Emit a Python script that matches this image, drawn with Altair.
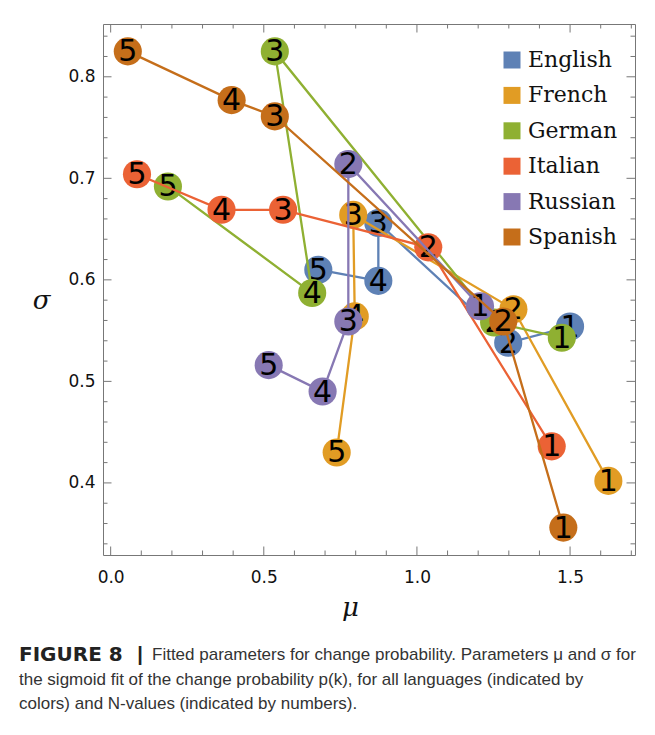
import altair as alt
import pandas as pd

languages = ["English", "French", "German", "Italian", "Russian", "Spanish"]
colors = ["#5E81B5", "#E19C24", "#8FB032", "#EB6235", "#8778B3", "#C56E1A"]
n_values = [1, 2, 3, 4, 5]

english_mu = [1.500, 1.298, 0.874, 0.874, 0.678]
english_sigma = [0.554, 0.538, 0.656, 0.599, 0.610]
french_mu = [1.625, 1.315, 0.792, 0.797, 0.738]
french_sigma = [0.402, 0.571, 0.664, 0.564, 0.430]
german_mu = [1.473, 1.252, 0.536, 0.658, 0.187]
german_sigma = [0.543, 0.558, 0.825, 0.587, 0.692]
italian_mu = [1.440, 1.037, 0.563, 0.362, 0.086]
italian_sigma = [0.436, 0.632, 0.669, 0.669, 0.704]
russian_mu = [1.206, 0.776, 0.776, 0.692, 0.516]
russian_sigma = [0.574, 0.714, 0.559, 0.490, 0.516]
spanish_mu = [1.478, 1.282, 0.536, 0.395, 0.056]
spanish_sigma = [0.356, 0.559, 0.761, 0.777, 0.825]

x_major = [0.0, 0.5, 1.0, 1.5]
x_minor = [0.1, 0.2, 0.3, 0.4, 0.6, 0.7, 0.8, 0.9, 1.1, 1.2, 1.3, 1.4, 1.6, 1.7]
y_major = [0.4, 0.5, 0.6, 0.7, 0.8]
y_minor = [0.34, 0.36, 0.38, 0.42, 0.44, 0.46, 0.48, 0.52, 0.54, 0.56, 0.58,
           0.62, 0.64, 0.66, 0.68, 0.72, 0.74, 0.76, 0.78, 0.82, 0.84]

caption_bold = "FIGURE 8"
caption_bar = "|"
caption_lines = [
    "Fitted parameters for change probability. Parameters \u03bc and \u03c3 for",
    "the sigmoid fit of the change probability p(k), for all languages (indicated by",
    "colors) and N-values (indicated by numbers).",
]

W, H = 532, 531

mus = [english_mu, french_mu, german_mu, italian_mu, russian_mu, spanish_mu]
sigmas = [english_sigma, french_sigma, german_sigma, italian_sigma, russian_sigma, spanish_sigma]
rows = []
for lang, m, s in zip(languages, mus, sigmas):
    for n, a, b in zip(n_values, m, s):
        rows.append({"language": lang, "N": n, "mu": a, "sigma": b})
df = pd.DataFrame(rows)

xscale = alt.Scale(domain=[-0.025, 1.712], nice=False, zero=False)
yscale = alt.Scale(domain=[0.329, 0.852], nice=False, zero=False)
xaxis = alt.Axis(values=x_major, format=".1f", ticks=False, domain=False, grid=False,
                 labelPadding=14, titleX=247, titleY=52, titleBaseline="middle",
                 titleFont="DejaVu Serif", titleFontStyle="italic", titleFontWeight="normal",
                 titleFontSize=26, titleColor="#111")
yaxis = alt.Axis(values=y_major, format=".1f", ticks=False, domain=False, grid=False,
                 labelPadding=8, titleAngle=0, titleX=-62, titleY=276, titleBaseline="middle",
                 titleAlign="center",
                 titleFont="DejaVu Serif", titleFontStyle="italic", titleFontWeight="normal",
                 titleFontSize=26, titleColor="#111")
cscale_fill = alt.Scale(domain=languages, range=colors)
legend = alt.Legend(orient="none", legendX=398, legendY=25, title=None,
                    symbolType="square", symbolSize=289, symbolStrokeWidth=0,
                    symbolOpacity=1, labelFont="DejaVu Serif", labelFontSize=22,
                    labelColor="#111", rowPadding=13.4, labelOffset=5, padding=0)

X = alt.X("mu:Q", scale=xscale, axis=xaxis, title="\u03bc")
Y = alt.Y("sigma:Q", scale=yscale, axis=yaxis, title="\u03c3")

layers = []

# inward ticks on all four sides
for vals, ln in [(x_major, 8.5), (x_minor, 4.5)]:
    tdf = pd.DataFrame({"mu": vals})
    layers.append(alt.Chart(tdf).mark_rule(color="#777", strokeWidth=1).encode(
        x=X, y=alt.value(H), y2=alt.value(H - ln)))
    layers.append(alt.Chart(tdf).mark_rule(color="#777", strokeWidth=1).encode(
        x=X, y=alt.value(0), y2=alt.value(ln)))
for vals, ln in [(y_major, 8.5), (y_minor, 4.5)]:
    tdf = pd.DataFrame({"sigma": vals})
    layers.append(alt.Chart(tdf).mark_rule(color="#777", strokeWidth=1).encode(
        y=Y, x=alt.value(0), x2=alt.value(ln)))
    layers.append(alt.Chart(tdf).mark_rule(color="#777", strokeWidth=1).encode(
        y=Y, x=alt.value(W), x2=alt.value(W - ln)))

base = alt.Chart(df)
for lang, col in zip(languages, colors):
    sub = base.transform_filter(alt.datum.language == lang)
    layers.append(sub.mark_line(strokeWidth=2.3, color=col).encode(
        x=X, y=Y, order=alt.Order("N:Q")))
    layers.append(sub.mark_circle(size=790, opacity=1).encode(
        x=X, y=Y,
        fill=alt.Fill("language:N", scale=cscale_fill, legend=legend)))
    layers.append(sub.mark_text(font="DejaVu Sans", fontSize=30, baseline="middle",
                                align="center", dy=1, color="#000").encode(
        x=X, y=Y, text="N:Q"))

# caption
layers.append(alt.Chart(pd.DataFrame({"t": [caption_bold]})).mark_text(
    font="DejaVu Sans", fontSize=20, fontWeight="bold", align="left",
    baseline="middle", color="#222").encode(
    text="t:N", x=alt.value(-84), y=alt.value(631)))
layers.append(alt.Chart(pd.DataFrame({"t": [caption_bar]})).mark_text(
    font="Liberation Sans", fontSize=20, fontWeight="bold", align="center",
    baseline="middle", color="#222").encode(
    text="t:N", x=alt.value(37), y=alt.value(631)))
for i, line in enumerate(caption_lines):
    layers.append(alt.Chart(pd.DataFrame({"t": [line]})).mark_text(
        font="Liberation Sans", fontSize=17, align="left", baseline="middle",
        color="#333").encode(
        text="t:N",
        x=alt.value(49 if i == 0 else -84),
        y=alt.value(631 + 24.5 * i)))

chart = alt.layer(*layers).properties(
    width=W, height=H,
    padding={"left": 95, "top": 16, "right": 12, "bottom": 172},
    autosize="none",
).configure_view(stroke="#777", strokeWidth=1).configure_axis(
    labelFont="DejaVu Sans", labelFontSize=17, labelColor="#111"
)

chart.save("out.html", embed_options={"renderer": "svg", "actions": False})
